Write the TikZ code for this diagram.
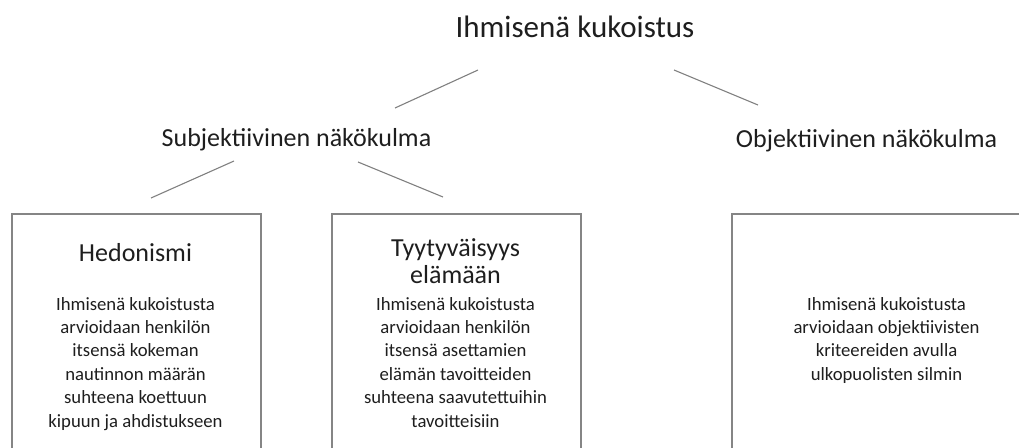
\documentclass[tikz,border=0pt]{standalone}
\usepackage{fontspec}
\setmainfont{Carlito}
\definecolor{txtcol}{HTML}{1E1E1E}
\definecolor{linecol}{HTML}{808080}
\definecolor{boxcol}{HTML}{858585}
\begin{document}
\begin{tikzpicture}[x=1pt,y=-1pt,
  txt/.style={text=txtcol, inner sep=0pt, align=center},
  ttl/.style={txt, font=\fontsize{31}{36}\selectfont},
  hd/.style={txt, font=\fontsize{26}{26.6}\selectfont},
  body/.style={txt, font=\fontsize{18.7}{23.4}\selectfont},
  conn/.style={draw=linecol, line width=1.1pt},
  box/.style={draw=boxcol, line width=1.5pt, inner sep=0pt, anchor=north west, minimum height=260pt}]
\useasboundingbox (0,0) rectangle (1019,447);
\clip (0,0) rectangle (1019,447);
% headings
\node[ttl, anchor=base] (root) at (575,37) {Ihmisenä kukoistus};
\node[hd, anchor=base] (subj) at (296.5,146.7) {Subjektiivinen näkökulma};
\node[hd, anchor=base] (obj) at (866.5,147) {Objektiivinen näkökulma};
% boxes
\node[box, minimum width=249pt] (b1) at (11,213) {};
\node[box, minimum width=249pt] (b2) at (331,213) {};
\node[box, minimum width=312pt] (b3) at (731,213) {};
% box texts (base anchor = baseline of the last line)
\node[hd, anchor=base] (h1) at (135.5,261.7) {Hedonismi};
\node[body, anchor=base] (t1) at (135.5,427) {Ihmisenä kukoistusta\\arvioidaan henkilön\\itsensä kokeman\\nautinnon määrän\\suhteena koettuun\\kipuun ja ahdistukseen};
\node[hd, anchor=base] (h2) at (455.5,283.3) {Tyytyväisyys\\elämään};
\node[body, anchor=base] (t2) at (455.5,427) {Ihmisenä kukoistusta\\arvioidaan henkilön\\itsensä asettamien\\elämän tavoitteiden\\suhteena saavutettuihin\\tavoitteisiin};
\node[body, anchor=base] (t3) at (886.5,380.2) {Ihmisenä kukoistusta\\arvioidaan objektiivisten\\kriteereiden avulla\\ulkopuolisten silmin};
% connectors
\coordinate (c1a) at (395,108); \coordinate (c1b) at (478,70);
\coordinate (c2a) at (674,70);  \coordinate (c2b) at (758,105);
\coordinate (c3a) at (151,198); \coordinate (c3b) at (234,161);
\coordinate (c4a) at (358,162); \coordinate (c4b) at (443,197);
\draw[conn] (c1a) -- (c1b);
\draw[conn] (c2a) -- (c2b);
\draw[conn] (c3a) -- (c3b);
\draw[conn] (c4a) -- (c4b);
\end{tikzpicture}
\end{document}
